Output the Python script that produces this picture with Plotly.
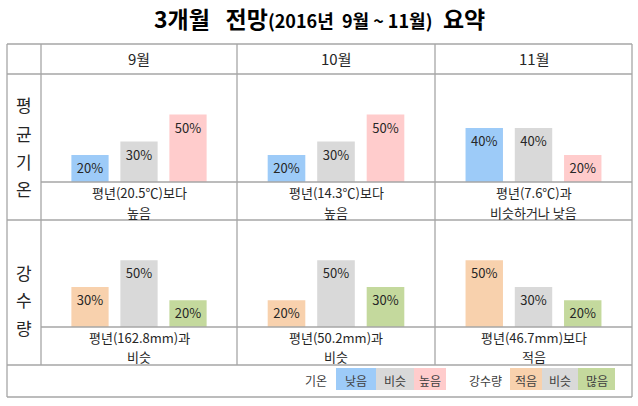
import plotly.graph_objects as go

# ---------------------------------------------------------------------------
# Data
# ---------------------------------------------------------------------------

months = ["9월", "10월", "11월"]
temp_classes = ["낮음", "비슷", "높음"]
rain_classes = ["적음", "비슷", "많음"]

temp_probs = [[20, 30, 50], [20, 30, 50], [40, 40, 20]]
rain_probs = [[30, 50, 20], [20, 50, 30], [50, 30, 20]]

temp_notes = [("평년(20.5℃)보다", "높음"), ("평년(14.3℃)보다", "높음"),
              ("평년(7.6℃)과", "비슷하거나 낮음")]
rain_notes = [("평년(162.8mm)과", "비슷"), ("평년(50.2mm)과", "비슷"),
              ("평년(46.7mm)보다", "적음")]

row_labels = ["평균기온", "강수량"]

# ---------------------------------------------------------------------------
# Style
# ---------------------------------------------------------------------------

W, H = 638, 406
FONT = "Noto Sans CJK KR"
LINE = "#a6a6a6"
TXT = "#262626"
NB = "\u00a0"

temp_colors = ["#9dcbf8", "#d9d9d9", "#ffcccc"]
rain_colors = ["#f8d1ad", "#d9d9d9", "#c4d99d"]

col_edges = [41, 237, 435, 632]
rows_px = [(182, 74), (327, 220)]  # (baseline, top) in pixels
caption_px = [(193, 212), (337, 356)]  # caption line centres per row


def px_x(v):
    return v / W


def px_y(v):
    return 1 - v / H


def note(x, y, text, size, color=TXT):
    """Paper-anchored text placed by pixel position."""
    return dict(x=px_x(x), y=px_y(y), xref="paper", yref="paper", text=text,
                showarrow=False, xanchor="center", yanchor="middle",
                font=dict(family=FONT, size=size, color=color))


fig = go.Figure()
layout = {}
annotations = []
shapes = []

for r, (probs, colors, classes) in enumerate(
    [(temp_probs, temp_colors, temp_classes), (rain_probs, rain_colors, rain_classes)]
):
    base, top = rows_px[r]
    for c in range(3):
        idx = r * 3 + c + 1
        xa = "x" if idx == 1 else f"x{idx}"
        ya = "y" if idx == 1 else f"y{idx}"
        fig.add_trace(go.Bar(
            x=list(range(3)),
            y=probs[c],
            width=0.76,
            marker=dict(color=colors, line=dict(width=0)),
            text=[f"{v}%" for v in probs[c]],
            textposition="inside",
            insidetextanchor="end",
            insidetextfont=dict(family=FONT, size=13, color=TXT),
            constraintext="none",
            hovertext=classes,
            xaxis=xa, yaxis=ya,
            showlegend=False,
        ))
        axis_common = dict(showgrid=False, zeroline=False, showticklabels=False,
                           showline=False, fixedrange=True)
        layout["xaxis" if idx == 1 else f"xaxis{idx}"] = dict(
            domain=[px_x(col_edges[c]), px_x(col_edges[c + 1])],
            range=[-1, 3], anchor=ya, **axis_common)
        layout["yaxis" if idx == 1 else f"yaxis{idx}"] = dict(
            domain=[px_y(base), px_y(top)],
            range=[0, 80], anchor=xa, **axis_common)

# header months
for c, m in enumerate(months):
    annotations.append(note((col_edges[c] + col_edges[c + 1]) / 2, 59, m, 15))

# captions, one annotation per line
for notes, ys in zip([temp_notes, rain_notes], caption_px):
    for c, lines in enumerate(notes):
        cx = (col_edges[c] + col_edges[c + 1]) / 2
        for txt, y in zip(lines, ys):
            annotations.append(note(cx, y, txt, 13))

# vertical row labels, one glyph per annotation
for label, y0, step in [(row_labels[0], 105, 28), (row_labels[1], 272, 27.5)]:
    for i, ch in enumerate(label):
        annotations.append(note(24, y0 + i * step, ch, 17))

# title
title = (f"<b>3개월{NB * 3}전망<span style='font-size:18px'>(2016년{NB * 2}9월{NB}~{NB}11월)"
         f"</span>{NB * 2}요약</b>")
annotations.append(note(320, 18, title, 23, "#000000"))

# table lines
def hline(y, x0, x1):
    shapes.append(dict(type="line", xref="paper", yref="paper",
                       x0=px_x(x0), x1=px_x(x1), y0=px_y(y), y1=px_y(y),
                       line=dict(color=LINE, width=1.3)))


def vline(x, y0, y1):
    shapes.append(dict(type="line", xref="paper", yref="paper",
                       x0=px_x(x), x1=px_x(x), y0=px_y(y0), y1=px_y(y1),
                       line=dict(color=LINE, width=1.3)))


for y in (44, 74, 220, 365, 397):
    hline(y, 7, 632)
for y in (182, 327):
    hline(y, 41, 632)
vline(7, 44, 397)
vline(632, 44, 397)
for x in (41, 237, 435):
    vline(x, 44, 365)

# legend row
legend_groups = [
    ("기온", 316, temp_classes, temp_colors, [336, 376, 414, 446]),
    ("강수량", 485, rain_classes, rain_colors, [510, 542, 578, 615]),
]
for name, name_x, classes, colors, edges in legend_groups:
    annotations.append(note(name_x, 380, name, 12, "#404040"))
    for i, (cls, col) in enumerate(zip(classes, colors)):
        shapes.append(dict(type="rect", xref="paper", yref="paper",
                           x0=px_x(edges[i]), x1=px_x(edges[i + 1]),
                           y0=px_y(390), y1=px_y(368),
                           fillcolor=col, line=dict(width=0), layer="below"))
        annotations.append(note((edges[i] + edges[i + 1]) / 2, 380, cls, 12, "#404040"))

fig.update_layout(
    width=W, height=H,
    margin=dict(l=0, r=0, t=0, b=0),
    paper_bgcolor="white",
    plot_bgcolor="rgba(0,0,0,0)",
    font=dict(family=FONT),
    annotations=annotations,
    shapes=shapes,
    **layout,
)

# the page body has an 8px default margin; drop it so pixels line up
fig.write_html("out.html", config={"displayModeBar": False},
               post_script="document.body.style.margin = '0';")
